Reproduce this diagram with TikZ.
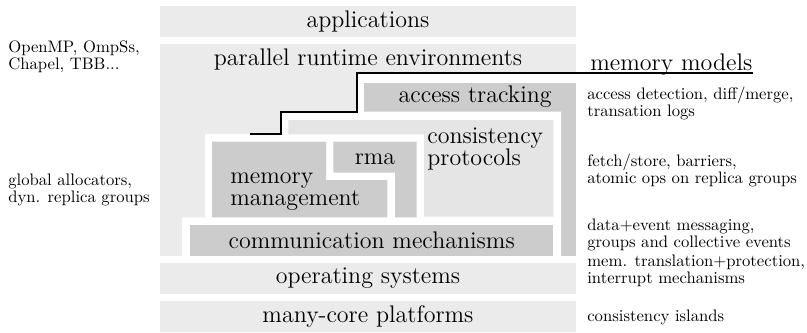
\documentclass[tikz,border=0pt]{standalone}
\definecolor{lightbox}{HTML}{EBEBEB}
\definecolor{midbox}{HTML}{E5E5E5}
\definecolor{darkbox}{HTML}{CCCCCC}
\begin{document}
\begin{tikzpicture}[x=0.6pt,y=-0.6pt,
  layer/.style={fill=lightbox},
  darkpart/.style={fill=darkbox},
  midpart/.style={fill=midbox},
  framepart/.style={fill=white},
  big/.style={font=\fontsize{14.4}{13.2}\selectfont, inner sep=0pt},
  side/.style={font=\fontsize{10}{10.2}\selectfont, inner sep=0pt, align=left, anchor=west},
  mline/.style={draw=black, line width=1.2pt}]
\useasboundingbox (0,0) rectangle (807,332);
% layers
\fill[layer] (160,6) rectangle (576,36.7);
\fill[layer] (160,44) rectangle (576,256);
\fill[layer] (160,262.7) rectangle (576,293.5);
\fill[layer] (160,301) rectangle (576,331.7);
% memory models frame
\fill[framepart] (182.3,256) -- (182.3,217.7) -- (205,217.7) -- (205,134.3) -- (280.7,134.3) -- (280.7,111.7) -- (356.7,111.7) -- (356.7,72.5) -- (576,72.5) -- (576,256) -- cycle;
\fill[darkpart] (364,82.5) rectangle (576,256);
\fill[framepart] (182.3,256) -- (182.3,217.7) -- (205,217.7) -- (205,134.3) -- (280.7,134.3) -- (280.7,111.7) -- (561,111.7) -- (561,256) -- cycle;
\fill[midpart] (288.3,120) -- (553.3,120) -- (553.3,216.7) -- (424,216.7) -- (424,134.3) -- (288.3,134.3) -- cycle;
\fill[darkpart] (212,141.7) -- (326,141.7) -- (326,180) -- (387.3,180) -- (387.3,217.3) -- (212,217.3) -- cycle;
\fill[darkpart] (333.3,141.7) -- (416.7,141.7) -- (416.7,217.3) -- (395,217.3) -- (395,172.7) -- (333.3,172.7) -- cycle;
\fill[darkpart] (190,225) rectangle (553.3,256);
% texts
\node[big] (app) at (368,21.3) {applications};
\node[big] (pre) at (368,59.4) {parallel runtime environments};
\node[big, anchor=base west] (mmod) at (590,70.3) {memory models};
\node[big, anchor=east] (acc) at (552,97) {access tracking};
\node[big, align=left, anchor=west] (cons) at (427,148.5) {consistency\\protocols};
\node[big] (rma) at (375,159) {rma};
\node[big, align=left, anchor=west] (mem) at (230,192) {memory\\management};
\node[big] (comm) at (371.7,240.5) {communication mechanisms};
\node[big] (os) at (368,278) {operating systems};
\node[big] (mc) at (368,316.3) {many-core platforms};
% black line
\coordinate (lstart) at (250,134.3);
\coordinate (lend) at (mmod.east |- 0,72.5);
\draw[mline] (lstart) -- (280.7,134.3) -- (280.7,111.7) -- (356.7,111.7) -- (356.7,72.5) -- (lend);
% side notes
\node[side] (s1) at (8,57) {OpenMP, OmpSs,\\Chapel, TBB...};
\node[side] (s2) at (8,190) {global allocators,\\dyn. replica groups};
\node[side] (s3) at (587,103) {access detection, diff/merge,\\transation logs};
\node[side] (s4) at (587,170.5) {fetch/store, barriers,\\atomic ops on replica groups};
\node[side] (s5) at (587,235) {data+event messaging,\\groups and collective events};
\node[side] (s6) at (587,271) {mem. translation+protection,\\interrupt mechanisms};
\node[side] (s7) at (587,317) {consistency islands};
\end{tikzpicture}
\end{document}
